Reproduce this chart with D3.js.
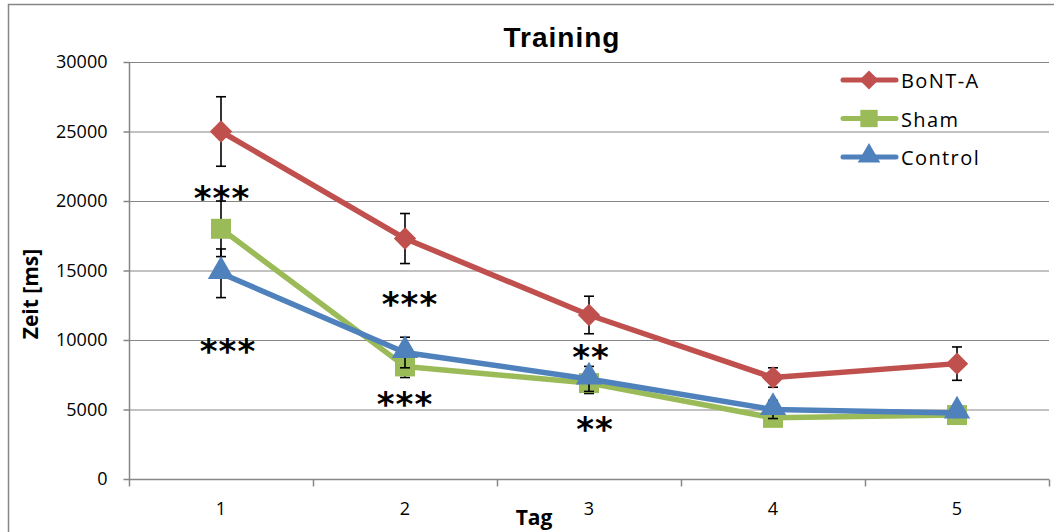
<!DOCTYPE html>
<html><head><meta charset="utf-8">
<script src="https://cdn.jsdelivr.net/npm/d3@7"></script>
<style>body{margin:0;background:#fff}svg{display:block}</style>
</head><body>
<script>
const days = ["1","2","3","4","5"];
const seriesNames = ["BoNT-A","Sham","Control"];
const bontValues = [25000,17300,11800,7300,8300];
const bontErr = [2500,1800,1350,700,1200];
const shamValues = [18000,8100,6900,4400,4600];
const shamErr = [2000,800,750,300,200];
const controlValues = [14800,9100,7200,5000,4750];
const controlErr = [1750,1100,900,650,200];
const yTicks = [0,5000,10000,15000,20000,25000,30000];
const sigDays = ["1","1","2","2","3","3"];
const sigLevels = [20750,9700,13100,5900,9280,4070];
const sigTexts = ["***","***","***","***","**","**"];
const sigShift = [1,7,5,0,2,6];
const colors = ["#C0504D","#9BBB59","#4F81BD"];

const diamond = {draw(ctx,size){const r=Math.sqrt(size/2);ctx.moveTo(0,-r);ctx.lineTo(r,0);ctx.lineTo(0,r);ctx.lineTo(-r,0);ctx.closePath();}};
const shapes = [diamond, d3.symbolSquare, d3.symbolTriangle];
const FONT="'Open Sans',Arial,sans-serif";

const W=1054,H=532;
const svg=d3.select("body").append("svg").attr("width",W).attr("height",H);
svg.append("rect").attr("x",8.5).attr("y",4.5).attr("width",1060).attr("height",540)
  .attr("fill","none").attr("stroke","#868686").attr("stroke-width",1.5);

const pL=129,pR=1049,pT=62,pB=479;
const x=d3.scaleBand().domain(days).range([pL,pR]);
const y=d3.scaleLinear().domain([0,30000]).range([pB,pT]);
const cx=d=>x(d)+x.bandwidth()/2;

// gridlines
svg.append("g").selectAll("line").data(yTicks.slice(1)).join("line")
  .attr("x1",pL).attr("x2",pR).attr("y1",d=>y(d)+0.5).attr("y2",d=>y(d)+0.5)
  .attr("stroke","#868686").attr("stroke-width",1.2);

// y axis
const ya=svg.append("g").attr("transform",`translate(${pL+0.5},0)`)
  .call(d3.axisLeft(y).tickValues(yTicks).tickSize(6).tickPadding(16).tickFormat(d3.format("d")));
ya.select(".domain").attr("stroke","#868686").attr("stroke-width",1.5).attr("d",`M0,${pT+0.5}V${pB+0.5}`);
ya.selectAll(".tick line").attr("stroke","#868686").attr("stroke-width",1.5);
ya.selectAll(".tick text").attr("font-family",FONT).attr("font-size",18).attr("fill","#000");

// x axis
const xa=svg.append("g").attr("transform",`translate(0,${pB+0.5})`)
  .call(d3.axisBottom(x).tickSize(0).tickPadding(23));
xa.select(".domain").attr("stroke","#868686").attr("stroke-width",1.5).attr("d",`M${pL},0H${pR}`);
xa.selectAll(".tick text").attr("font-family",FONT).attr("font-size",18).attr("fill","#000");
const bounds=days.map(d=>x(d)).concat([pR]);
xa.selectAll("line.b").data(bounds).join("line").attr("class","b")
  .attr("x1",d=>d+0.5).attr("x2",d=>d+0.5).attr("y1",0).attr("y2",7)
  .attr("stroke","#868686").attr("stroke-width",1.5);

// title & axis labels
svg.append("text").attr("x",562).attr("y",47).attr("text-anchor","middle")
  .attr("font-family","'Liberation Sans',Arial,sans-serif").attr("font-weight","bold").attr("font-size",28)
  .attr("letter-spacing",1).text("Training");
svg.append("text").attr("transform","translate(38,294) rotate(-90)").attr("text-anchor","middle")
  .attr("font-family",FONT).attr("font-weight","bold").attr("font-size",21).text("Zeit [ms]");
svg.append("text").attr("x",534).attr("y",525).attr("text-anchor","middle")
  .attr("font-family",FONT).attr("font-weight","bold").attr("font-size",21).text("Tag");

const allVals=[bontValues,shamValues,controlValues];
const allErr=[bontErr,shamErr,controlErr];
const line=d3.line().x((v,i)=>cx(days[i])).y(v=>y(v));

allVals.forEach((vals,s)=>{
  const g=svg.append("g");
  g.append("path").attr("d",line(vals)).attr("fill","none").attr("stroke",colors[s])
    .attr("stroke-width",5.5).attr("stroke-linejoin","round");
  vals.forEach((v,i)=>{
    const e=allErr[s][i], xc=cx(days[i]);
    g.append("line").attr("x1",xc).attr("x2",xc).attr("y1",y(v+e)).attr("y2",y(v-e)).attr("stroke","#000").attr("stroke-width",1.6);
    [v+e,v-e].forEach(t=>g.append("line").attr("x1",xc-5).attr("x2",xc+5).attr("y1",y(t)).attr("y2",y(t)).attr("stroke","#000").attr("stroke-width",1.6));
  });
  const size = s===0?250:(s===1?400:300);
  g.selectAll("path.m").data(vals).join("path").attr("class","m")
    .attr("transform",(v,i)=>`translate(${cx(days[i])},${y(v)+(s===2?-2:0)})`)
    .attr("d",d3.symbol(shapes[s]).size(size)).attr("fill",colors[s]);
});

// significance asterisks (glyph centre placed at level)
svg.append("g").selectAll("text").data(sigTexts).join("text")
  .attr("x",(t,i)=>cx(sigDays[i])+sigShift[i]).attr("y",(t,i)=>y(sigLevels[i])+19)
  .attr("text-anchor","middle")
  .attr("font-family","'DejaVu Sans',sans-serif").attr("font-weight","bold").attr("font-size",34).attr("letter-spacing",1)
  .attr("fill","#000").text(t=>t);

// legend
const lg=svg.append("g");
seriesNames.forEach((n,i)=>{
  const yy=80+i*38.5;
  lg.append("line").attr("x1",843).attr("x2",896).attr("y1",yy).attr("y2",yy).attr("stroke",colors[i]).attr("stroke-width",5).attr("stroke-linecap","round");
  lg.append("path").attr("transform",`translate(869,${yy+(i===2?-1:0)})`).attr("d",d3.symbol(shapes[i]).size(i===0?180:(i===1?300:220))).attr("fill",colors[i]);
  lg.append("text").attr("x",901).attr("y",yy+8).attr("font-family",FONT).attr("font-size",20).attr("letter-spacing",1.4).text(n);
});
</script>
</body></html>
